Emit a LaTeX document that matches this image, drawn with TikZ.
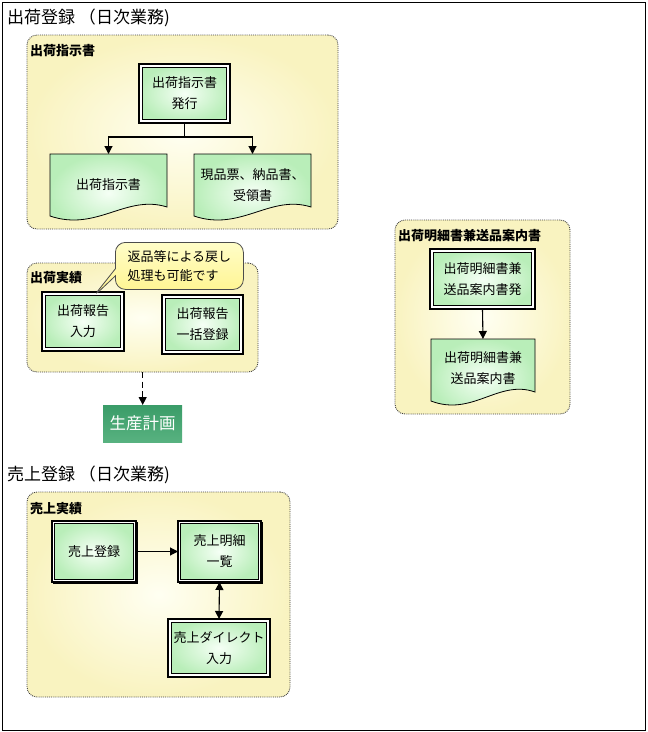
\documentclass[tikz,border=0pt]{standalone}
\usepackage{fontspec}
\setmainfont{Noto Sans CJK JP}
\usetikzlibrary{arrows.meta,shapes.callouts}
\definecolor{grpin}{RGB}{255,255,242}
\definecolor{grpout}{RGB}{249,243,192}
\definecolor{procin}{RGB}{245,255,245}
\definecolor{procout}{RGB}{185,238,185}
\definecolor{coin}{RGB}{255,253,200}
\definecolor{coout}{RGB}{255,244,140}
\definecolor{spTop}{RGB}{58,156,104}
\definecolor{spBot}{RGB}{88,178,128}
\newcommand\myThickFrame[1]{%
  \draw[white,line width=1.6pt] ([xshift=2.2pt,yshift=-2.2pt]#1.north west) rectangle ([xshift=-2.2pt,yshift=2.2pt]#1.south east);
  \draw[line width=0.8pt] ([xshift=3.4pt,yshift=-3.4pt]#1.north west) rectangle ([xshift=-3.4pt,yshift=3.4pt]#1.south east);}
\newcommand\myThinFrame[1]{%
  \draw[white,line width=1.8pt] ([xshift=1.5pt,yshift=-1.5pt]#1.north west) rectangle ([xshift=-1.5pt,yshift=1.5pt]#1.south east);
  \draw[line width=0.8pt] ([xshift=2.8pt,yshift=-2.8pt]#1.north west) rectangle ([xshift=-2.8pt,yshift=2.8pt]#1.south east);
  \draw[line width=1.2pt] ([xshift=1pt,yshift=-1pt]#1.south west) -- ([xshift=1pt,yshift=-1pt]#1.south east) -- ([xshift=1pt,yshift=-1pt]#1.north east);}
\newcommand\myDoc[3]{%
  \draw[docshape] (#1,#2) -- ++(#3,0) -- ++(0,53) .. controls +(-0.35*#3,-13) and (#1+0.4*#3,#2+78) .. (#1,#2+62) -- cycle;}
\begin{document}
\begin{tikzpicture}[x=1pt,y=-1pt,
  grp/.style={draw=black!75, densely dotted, line width=0.9pt, rounded corners=10pt, inner color=grpin, outer color=grpout, anchor=north west, inner sep=0pt, outer sep=0pt},
  glabel/.style={font=\fontsize{13}{14}\selectfont\bfseries, anchor=west, inner sep=0pt},
  ttl/.style={font=\fontsize{17}{18}\selectfont, anchor=west, inner sep=0pt},
  procbase/.style={anchor=north west, align=center, inner sep=0pt, outer sep=0pt, inner color=procin, outer color=procout, font=\fontsize{13}{21}\selectfont},
  procthick/.style={procbase, draw, line width=2.4pt},
  procthin/.style={procbase, draw, line width=1.2pt},
  docshape/.style={draw, line width=0.8pt, inner color=procin, outer color=procout},
  doctext/.style={anchor=north west, inner sep=0pt, outer sep=0pt, align=center, font=\fontsize{13}{21}\selectfont},
  arr/.style={-{Triangle[length=8pt,width=8pt]}, line width=1.1pt},
  dblarr/.style={{Triangle[length=8pt,width=8pt]}-{Triangle[length=8pt,width=8pt]}, line width=1.1pt},
]
\useasboundingbox (0,0) rectangle (648,732);
\draw[line width=1pt] (2,2) rectangle (645.5,730);

% ---------- section 1
\node[ttl] (t1) at (7,18) {出荷登録 （日次業務)};

\node[grp, minimum width=311pt, minimum height=194pt] (g1) at (27,35) {};
\node[glabel] (l1) at (30,51) {出荷指示書};
\node[procthick, minimum width=91pt, minimum height=59pt] (p1) at (139,64) {出荷指示書\\発行};
\myThickFrame{p1}
\myDoc{50}{154}{117}
\node[doctext, minimum width=117pt, minimum height=62pt] (d1) at (50,154) {出荷指示書};
\myDoc{194}{154}{117}
\node[doctext, minimum width=117pt, minimum height=62pt] (d2) at (194,154) {現品票、納品書、\\受領書};
\draw[line width=1.1pt] (p1.south) -- ++(0,14) coordinate (fk);
\draw[arr] (fk) -| (d1.north);
\draw[arr] (fk) -| (d2.north);

\node[grp, minimum width=231pt, minimum height=109pt] (g2) at (27,263) {};
\node[glabel] (l2) at (30,278) {出荷実績};
\node[procthick, minimum width=82pt, minimum height=59pt] (r1) at (42,292) {出荷報告\\入力};
\myThickFrame{r1}
\node[procthick, minimum width=81pt, minimum height=59pt] (r2) at (162,295) {出荷報告\\一括登録};
\myThickFrame{r2}
\node[rectangle callout, callout absolute pointer={(93,297)}, draw=black!70, line width=0.8pt, rounded corners=10pt, top color=coin, bottom color=coout, minimum width=128pt, minimum height=47pt, anchor=north west, inner sep=0pt, align=left, font=\fontsize{13}{19.5}\selectfont] (co) at (115,242) {返品等による戻し\\処理も可能です};

\node[anchor=north west, minimum width=79pt, minimum height=37pt, inner sep=0pt, top color=spTop, bottom color=spBot, text=white, font=\fontsize{16.5}{17}\selectfont] (sp) at (103,405) {生産計画};
\draw[arr, dash pattern=on 6pt off 3.5pt] (g2.south -| sp.north) -- (sp.north);

\node[grp, minimum width=175pt, minimum height=194pt] (g3) at (395,220) {};
\node[glabel] (l3) at (398,236) {出荷明細書兼送品案内書};
\node[procthick, minimum width=105pt, minimum height=60pt] (n3) at (430,249) {出荷明細書兼\\送品案内書発};
\myThickFrame{n3}
\myDoc{431}{339}{104}
\node[doctext, minimum width=104pt, minimum height=58pt] (d3) at (431,339) {出荷明細書兼\\送品案内書};
\draw[arr] (n3.south) -- (d3.north);

% ---------- section 2
\node[ttl] (t2) at (7,475) {売上登録 （日次業務)};
\node[grp, minimum width=263pt, minimum height=205pt] (g4) at (27,492) {};
\node[glabel] (l4) at (30,509) {売上実績};
\node[procthin, minimum width=84pt, minimum height=61pt] (s1) at (52,521) {売上登録};
\myThinFrame{s1}
\node[procthin, minimum width=83pt, minimum height=61pt] (s2) at (178,521) {売上明細\\一覧};
\myThinFrame{s2}
\node[procthick, minimum width=102pt, minimum height=58pt] (s3) at (168,619) {売上ダイレクト\\入力};
\myThickFrame{s3}
\draw[arr] (s1.east) -- (s2.west);
\draw[dblarr] (s2.south) -- (s3.north);
\end{tikzpicture}
\end{document}
